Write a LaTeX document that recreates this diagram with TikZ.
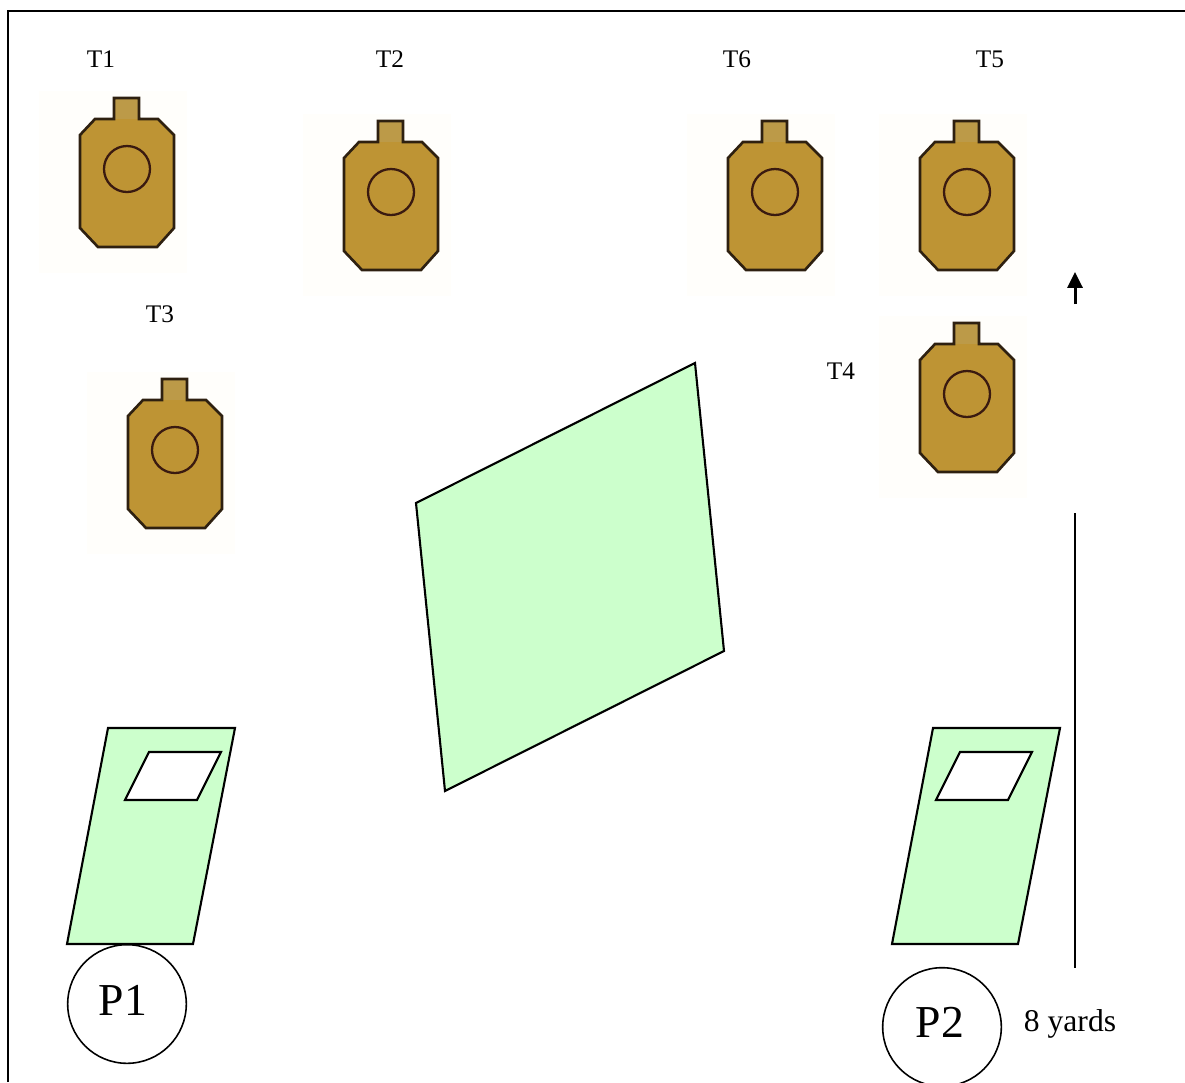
\documentclass[tikz,border=0pt]{standalone}
\usepackage{fontspec}
\setmainfont{Liberation Serif}
\usetikzlibrary{arrows.meta}
\definecolor{targetbrown}{HTML}{BE9434}
\definecolor{targettab}{HTML}{BC9A48}
\definecolor{targetedge}{HTML}{2E2010}
\definecolor{targetring}{HTML}{3A1A10}
\definecolor{targethalo}{HTML}{FFFEFB}
\definecolor{boxgreen}{HTML}{CCFFCC}
\tikzset{
  boxline/.style={draw=black, line width=1.2pt, line join=miter},
  tlabel/.style={inner sep=0pt, font=\fontsize{14.4pt}{16pt}\selectfont},
  shooter/.style={circle, draw=black, line width=0.9pt, fill=white, minimum size=67.5pt, inner sep=0pt},
  plabel/.style={inner sep=0pt, font=\fontsize{26pt}{30pt}\selectfont},
  target/.pic={
    \fill[targethalo] (-88,-78) rectangle (60,104);
    \fill[targetbrown]
      (-13,-50) -- (31,-50) -- (47,-34) -- (47,59) -- (30,78)
      -- (-29,78) -- (-47,59) -- (-47,-34) -- (-32,-50) -- cycle;
    \fill[targettab] (-13,-71) rectangle (12,-50);
    \draw[targetedge, line width=1.5pt]
      (-13,-71) -- (12,-71) -- (12,-50) -- (31,-50) -- (47,-34) -- (47,59) -- (30,78)
      -- (-29,78) -- (-47,59) -- (-47,-34) -- (-32,-50) -- (-13,-50) -- cycle;
    \draw[targetring, line width=1.3pt] (0,0) circle (23);
  }
}
\begin{document}
\begin{tikzpicture}[x=0.2mm, y=-0.2mm]
\useasboundingbox (0,0) rectangle (1185,1082);

% Frame
\draw[line width=1.4pt] (8,1082) -- (8,11) -- (1185,11);

% Targets
\pic at (127,169) {target};
\pic at (391,192) {target};
\pic at (775,192) {target};
\pic at (967,192) {target};
\pic at (967,394) {target};
\pic at (175,450) {target};

\node[tlabel] (t1) at (101,59) {T1};
\node[tlabel] (t2) at (390,59) {T2};
\node[tlabel] (t6) at (737,59) {T6};
\node[tlabel] (t5) at (990,59) {T5};
\node[tlabel] (t4) at (841,371) {T4};
\node[tlabel] (t3) at (160,314) {T3};

% Centre barrier
\filldraw[fill=boxgreen, boxline] (416,503) -- (695,363) -- (724,651) -- (445,791) -- cycle;

% Left box
\filldraw[fill=boxgreen, boxline] (108,728) -- (235,728) -- (193,944) -- (67,944) -- cycle;
\filldraw[fill=white, boxline] (149,752) -- (221,752) -- (197,800) -- (125,800) -- cycle;

% Right box
\filldraw[fill=boxgreen, boxline] (933,728) -- (1060,728) -- (1018,944) -- (892,944) -- cycle;
\filldraw[fill=white, boxline] (960,752) -- (1032,752) -- (1008,800) -- (936,800) -- cycle;

% Shooters
\node[shooter] (p1) at (127,1004) {};
\node[plabel] (p1text) at (123,1000) {P1};
\begin{scope}
\clip (0,0) rectangle (1002,1082);
\node[shooter] (p2) at (942,1027) {};
\end{scope}
\node[plabel] (p2text) at (940,1022) {P2};

% Distance
\coordinate (dtop) at (1075,272);
\coordinate (dstem) at (1075,304);
\coordinate (dup) at (1075,513);
\coordinate (ddown) at (1075,968);
\draw[line width=1.7pt, -{Triangle[length=9pt,width=8.5pt]}] (dstem) -- (dtop);
\draw[line width=1.6pt] (dup) -- (ddown);
\node[tlabel, font=\fontsize{18pt}{20pt}\selectfont] (yards) at (1070,1024) {8 yards};
\end{tikzpicture}
\end{document}
